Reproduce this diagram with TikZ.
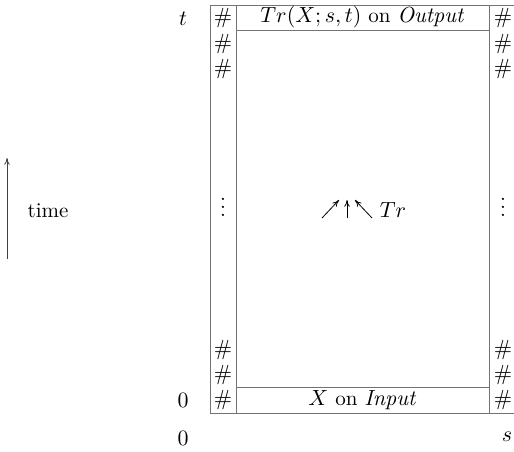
\documentclass[tikz,border=0pt]{standalone}
\usepackage{amsmath,amssymb}
\usepackage{tikz}
\usetikzlibrary{arrows.meta,positioning}
\definecolor{rule}{gray}{0.45}

\begin{document}
\begin{tikzpicture}[x=0.5pt,y=-0.5pt,>={To[length=3.4pt,width=2.8pt]},
  every node/.style={font=\fontsize{10.5}{12}\selectfont},
  grid/.style={draw=rule,line width=0.45pt},
  hash/.style={inner sep=0pt},
  lbl/.style={inner sep=0pt}]
  \useasboundingbox (0,0) rectangle (514,451);
  % the frame
  \draw[grid] (210,5) rectangle (520,413);
  \draw[grid] (236,5) -- (236,413);
  \draw[grid] (489,5) -- (489,413);
  \draw[grid] (236,30) -- (489,30);
  \draw[grid] (236,387) -- (489,387);
  \node[lbl] (out) at (363,17.5) {$Tr(X;s,t)$ on $\mathit{Output}$};
  \node[lbl] (in) at (363,400) {$X$ on $\mathit{Input}$};
  % hash columns
  \foreach \x/\side in {223/l,503/r}{
    \foreach \y/\i in {18/1,44/2,69/3,350/4,375/5,400/6}
      \node[hash] (h\side\i) at (\x,\y) {$\#$};
    \node[hash] (d\side) at (\x,201) {$\vdots$};
  }
  % axis labels
  \node[lbl] (tt) at (183,19) {$t$};
  \node[lbl] (t0) at (183,400) {$0$};
  \node[lbl] (s0) at (183,438) {$0$};
  \node[lbl] (ss) at (507,437) {$s$};
  % time arrow
  \coordinate (tlo) at (7,259);
  \coordinate (thi) at (7,158);
  \draw[->,black!75] (tlo) -- (thi);
  \node[lbl] (time) at (48,211) {time};
  % Tr arrows
  \coordinate (a1) at (322,218); \coordinate (b1) at (339,200);
  \coordinate (a2) at (347,218); \coordinate (b2) at (347,200);
  \coordinate (a3) at (372,218); \coordinate (b3) at (355,200);
  \foreach \i in {1,2,3} \draw[->] (a\i) -- (b\i);
  \node[lbl] (tr) at (393,210) {$Tr$};
\end{tikzpicture}
\end{document}
